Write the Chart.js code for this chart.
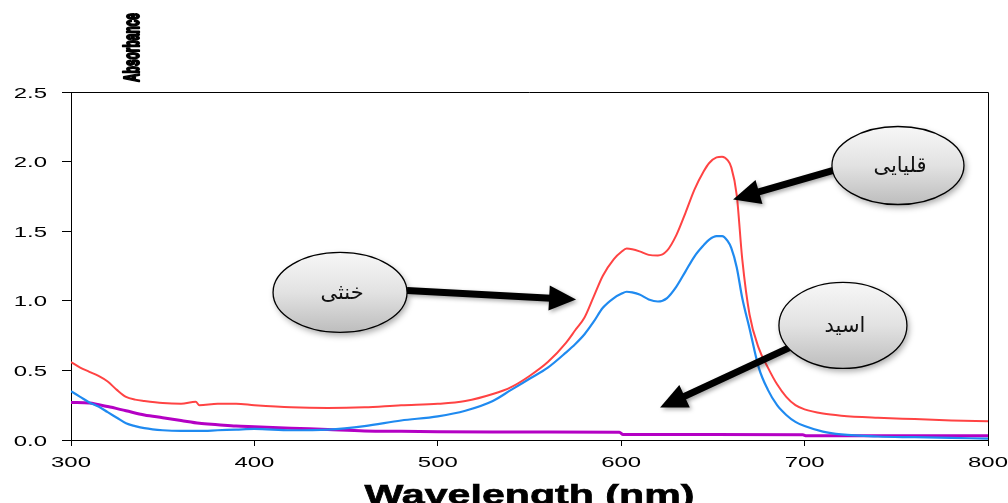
<!DOCTYPE html>
<html>
<head>
<meta charset="utf-8">
<script src="https://cdn.jsdelivr.net/npm/chart.js@4/dist/chart.umd.min.js"></script>
<style>
html,body{margin:0;padding:0;background:#fff;}
#wrap{width:1008px;height:503px;}
</style>
</head>
<body>
<div id="wrap"><canvas id="c" width="1008" height="503"></canvas></div>
<script>
// ---- data ----
const wavelength = [300,305,310,315,320,325,330,335,340,350,360,368,370,380,390,400,420,440,460,480,500,515,530,540,550,560,570,575,580,585,590,596,600,603,606,610,615,620,625,630,635,640,645,648,652,655,658,660,663,666,670,675,680,685,690,695,700,710,720,740,760,780,800];
const alkaline = [0.56,0.52,0.49,0.46,0.42,0.36,0.31,0.29,0.28,0.265,0.26,0.275,0.25,0.26,0.26,0.25,0.235,0.23,0.235,0.25,0.26,0.28,0.33,0.38,0.46,0.56,0.70,0.79,0.88,1.03,1.18,1.30,1.35,1.375,1.37,1.355,1.33,1.325,1.36,1.47,1.63,1.80,1.93,1.99,2.03,2.035,2.01,1.96,1.76,1.30,0.90,0.66,0.52,0.40,0.31,0.25,0.22,0.19,0.175,0.16,0.15,0.14,0.135];
const neutral = [0.35,0.31,0.27,0.24,0.20,0.16,0.12,0.10,0.085,0.07,0.065,0.065,0.065,0.07,0.075,0.08,0.07,0.075,0.10,0.14,0.17,0.21,0.28,0.36,0.44,0.52,0.63,0.69,0.76,0.85,0.95,1.02,1.05,1.065,1.06,1.045,1.01,0.995,1.02,1.10,1.21,1.32,1.40,1.44,1.465,1.465,1.43,1.38,1.24,1.02,0.80,0.52,0.36,0.25,0.18,0.13,0.10,0.06,0.04,0.025,0.02,0.015,0.01];
const acidWavelength = [300,310,320,330,340,350,360,370,380,390,400,420,440,460,480,500,530,560,599,601,650,699,701,750,800];
const acid = [0.27,0.265,0.24,0.21,0.18,0.16,0.14,0.12,0.11,0.10,0.095,0.085,0.075,0.065,0.062,0.06,0.058,0.057,0.056,0.04,0.04,0.038,0.03,0.03,0.03];
const seriesNames = ['قلیایی','خنثی','اسید'];
const xTickValues = [300,400,500,600,700,800];
const xTickLabels = ['300','400','500','600','700','800'];
const yTickValues = [0,0.5,1,1.5,2,2.5];
const yTickLabels = ['0.0','0.5','1.0','1.5','2.0','2.5'];
const xTitle = 'Wavelength (nm)';
const yTitle = 'Absorbance';

// callouts: ellipse centre and arrow in data units
const callouts = [
  {text:'خنثی', cx:446.7, cy:1.06, rx:67, ry:40, from:[483.2,1.074], to:[575.4,1.009]},
  {text:'قلیایی', cx:750.9, cy:1.972, rx:66, ry:39, from:[717.1,1.943], to:[661.0,1.728]},
  {text:'اسید', cx:720.9, cy:0.823, rx:64, ry:43, from:[692.0,0.665], to:[621.2,0.233]}
];

const toPts = (xs, ys) => xs.map((v,i)=>({x:v, y:ys[i]}));

function drawArrow(ctx, x1, y1, x2, y2){
  const ang = Math.atan2(y2-y1, x2-x1);
  const headLen = 27, headHalf = 12.5, shaft = 7;
  const bx = x2 - headLen*Math.cos(ang), by = y2 - headLen*Math.sin(ang);
  ctx.save();
  ctx.shadowColor = 'rgba(0,0,0,0.35)'; ctx.shadowBlur = 4; ctx.shadowOffsetX = 2; ctx.shadowOffsetY = 2;
  ctx.strokeStyle = '#000'; ctx.fillStyle = '#000';
  ctx.lineWidth = shaft; ctx.lineCap = 'butt';
  ctx.beginPath(); ctx.moveTo(x1,y1); ctx.lineTo(bx+2*Math.cos(ang), by+2*Math.sin(ang)); ctx.stroke();
  const px = -Math.sin(ang), py = Math.cos(ang);
  ctx.beginPath();
  ctx.moveTo(x2,y2);
  ctx.lineTo(bx + px*headHalf, by + py*headHalf);
  ctx.lineTo(bx - px*headHalf, by - py*headHalf);
  ctx.closePath(); ctx.fill();
  ctx.restore();
}

const decoPlugin = {
  id:'deco',
  afterDraw(chart){
    const ctx = chart.ctx, a = chart.chartArea, xs = chart.scales.x, ys = chart.scales.y;
    ctx.save();
    // top and right frame
    ctx.strokeStyle = '#000'; ctx.lineWidth = 1;
    ctx.beginPath();
    ctx.moveTo(a.left, a.top+0.5); ctx.lineTo(a.right+0.5, a.top+0.5); ctx.lineTo(a.right+0.5, a.bottom);
    ctx.stroke();
    // tick labels (stretched like the reference)
    ctx.fillStyle = '#000';
    ctx.font = '14.5px "Liberation Sans", Arial, sans-serif';
    const sx = 1.65;
    ctx.textAlign = 'right'; ctx.textBaseline = 'alphabetic';
    yTickValues.forEach((v,i)=>{
      const py = ys.getPixelForValue(v);
      ctx.save(); ctx.translate(47, py+5.5); ctx.scale(sx,1); ctx.fillText(yTickLabels[i],0,0); ctx.restore();
    });
    ctx.textAlign = 'center';
    xTickValues.forEach((v,i)=>{
      const px = xs.getPixelForValue(v);
      ctx.save(); ctx.translate(px, 467); ctx.scale(sx,1); ctx.fillText(xTickLabels[i],0,0); ctx.restore();
    });
    // x title
    ctx.font = 'bold 27px "Liberation Sans", Arial, sans-serif';
    let w = ctx.measureText(xTitle).width;
    ctx.save(); ctx.translate((a.left+a.right)/2, 504); ctx.scale(330/w,1);
    ctx.strokeStyle = '#000'; ctx.lineWidth = 0.6; ctx.fillText(xTitle,0,0); ctx.strokeText(xTitle,0,0); ctx.restore();
    // y title (rotated, condensed, heavy)
    ctx.font = 'bold 22px "Liberation Sans", Arial, sans-serif';
    w = ctx.measureText(yTitle).width;
    ctx.save(); ctx.translate(139, 47.5); ctx.rotate(-Math.PI/2); ctx.scale(69/w,1);
    ctx.textAlign = 'center'; ctx.strokeStyle = '#000'; ctx.lineWidth = 2.2; ctx.lineJoin = 'round';
    ctx.strokeText(yTitle,0,0); ctx.fillText(yTitle,0,0); ctx.restore();
    // callouts
    callouts.forEach(c=>{
      drawArrow(ctx, xs.getPixelForValue(c.from[0]), ys.getPixelForValue(c.from[1]),
                     xs.getPixelForValue(c.to[0]), ys.getPixelForValue(c.to[1]));
    });
    callouts.forEach(c=>{
      const cx = xs.getPixelForValue(c.cx), cy = ys.getPixelForValue(c.cy);
      ctx.save();
      ctx.shadowColor = 'rgba(0,0,0,0.35)'; ctx.shadowBlur = 6; ctx.shadowOffsetX = 2; ctx.shadowOffsetY = 3;
      const g = ctx.createLinearGradient(0, cy-c.ry, 0, cy+c.ry);
      g.addColorStop(0,'#f7f7f7'); g.addColorStop(0.5,'#e2e2e2'); g.addColorStop(1,'#bdbdbd');
      ctx.fillStyle = g;
      ctx.beginPath(); ctx.ellipse(cx, cy, c.rx, c.ry, 0, 0, Math.PI*2); ctx.fill();
      ctx.shadowColor = 'transparent';
      ctx.strokeStyle = '#000'; ctx.lineWidth = 1.3; ctx.stroke();
      ctx.fillStyle = '#111'; ctx.font = '21px "DejaVu Sans", sans-serif';
      ctx.textAlign = 'center'; ctx.textBaseline = 'middle';
      ctx.fillText(c.text, cx+2, cy+1);
      ctx.restore();
    });
    ctx.restore();
  }
};

new Chart(document.getElementById('c'), {
  type:'line',
  data:{
    datasets:[
      {label:seriesNames[0], data:toPts(wavelength, alkaline), borderColor:'#ff4343', borderWidth:2, pointRadius:0, cubicInterpolationMode:'monotone', fill:false},
      {label:seriesNames[1], data:toPts(wavelength, neutral), borderColor:'#1f8af0', borderWidth:2.2, pointRadius:0, cubicInterpolationMode:'monotone', fill:false},
      {label:seriesNames[2], data:toPts(acidWavelength, acid), borderColor:'#b400c4', borderWidth:3, pointRadius:0, cubicInterpolationMode:'monotone', fill:false}
    ]
  },
  options:{
    responsive:false, animation:false, devicePixelRatio:1,
    layout:{padding:{left:0, top:92, right:20, bottom:0}},
    plugins:{legend:{display:false}, tooltip:{enabled:false}},
    scales:{
      x:{type:'linear', min:300, max:800,
         ticks:{stepSize:100, display:false},
         grid:{drawOnChartArea:false, drawTicks:true, tickLength:6, color:'#000'},
         border:{color:'#000', width:1},
         afterFit(s){ s.height = 63; }},
      y:{type:'linear', min:0, max:2.5,
         ticks:{stepSize:0.5, display:false},
         grid:{drawOnChartArea:false, drawTicks:true, tickLength:9, color:'#000'},
         border:{color:'#000', width:1},
         afterFit(s){ s.width = 71; }}
    }
  },
  plugins:[decoPlugin]
});
</script>
</body>
</html>
